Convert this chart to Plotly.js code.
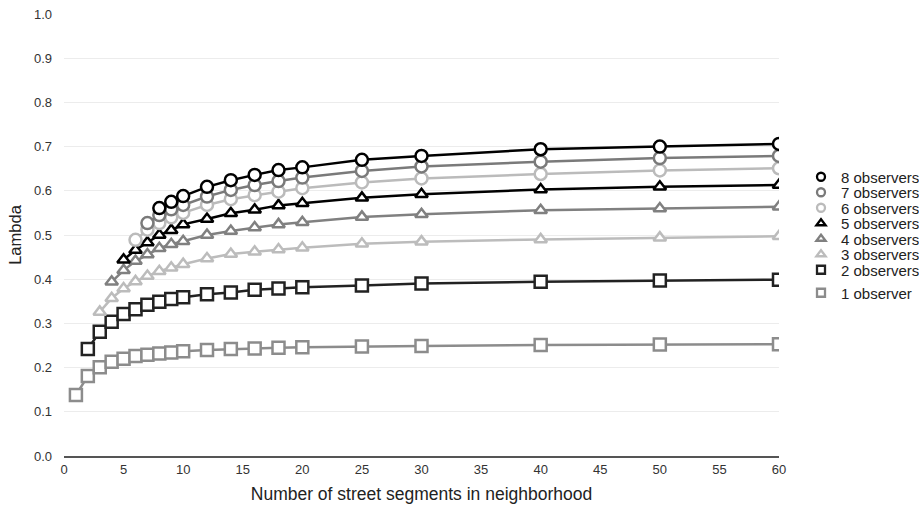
<!DOCTYPE html>
<html>
<head>
<meta charset="utf-8">
<script src="https://cdn.plot.ly/plotly-3.0.1.min.js"></script>
<style>html,body{margin:0;padding:0;background:#fff;}#chart{width:919px;height:508px;}</style>
</head>
<body>
<div id="chart"></div>
<script>
// Number of street segments in neighborhood
const segments = [1,2,3,4,5,6,7,8,9,10,12,14,16,18,20,25,30,40,50,60];

// Lambda by number of observers (null = not shown for that segment count)
const obs1 = [0.138,0.181,0.201,0.213,0.220,0.226,0.229,0.232,0.234,0.237,0.240,0.242,0.243,0.245,0.246,0.248,0.249,0.251,0.252,0.253];
const obs2 = [null,0.242,0.281,0.304,0.321,0.332,0.342,0.349,0.355,0.359,0.366,0.370,0.376,0.379,0.382,0.386,0.390,0.394,0.397,0.399];
const obs3 = [null,null,0.326,0.357,0.379,0.395,0.407,0.418,0.426,0.434,0.447,0.457,0.462,0.467,0.471,0.480,0.485,0.490,0.494,0.497];
const obs4 = [null,null,null,0.394,0.420,0.441,0.456,0.470,0.479,0.486,0.500,0.509,0.517,0.524,0.529,0.541,0.547,0.556,0.560,0.564];
const obs5 = [null,null,null,null,0.444,0.466,0.483,0.500,0.511,0.524,0.536,0.549,0.557,0.567,0.572,0.584,0.592,0.603,0.609,0.613];
const obs6 = [null,null,null,null,null,0.489,0.512,0.527,0.540,0.550,0.568,0.581,0.590,0.598,0.606,0.619,0.628,0.638,0.646,0.651];
const obs7 = [null,null,null,null,null,null,0.527,0.545,0.558,0.568,0.587,0.602,0.613,0.622,0.630,0.645,0.655,0.666,0.674,0.679];
const obs8 = [null,null,null,null,null,null,null,0.561,0.575,0.588,0.609,0.624,0.636,0.647,0.653,0.670,0.679,0.694,0.700,0.706];

const seriesNames = ["1 observer","2 observers","3 observers","4 observers","5 observers","6 observers","7 observers","8 observers"];
const seriesValues = [obs1,obs2,obs3,obs4,obs5,obs6,obs7,obs8];
const seriesColors = ["#8c8c8c","#222222","#bcbcbc","#808080","#000000","#bbbbbb","#7a7a7a","#000000"];
const seriesSymbols = ["square","square","triangle-up","triangle-up","triangle-up","circle","circle","circle"];

const xTicks = [0,5,10,15,20,25,30,35,40,45,50,55,60];
const yTicks = [0,0.1,0.2,0.3,0.4,0.5,0.6,0.7,0.8,0.9,1.0];

// legend row centres (pixels from top), one small legend per series
const legendRowPx = [293, 270, 254.5, 239, 223.5, 208, 192.5, 177];
const W = 919, H = 508;
const plotTop = 14, plotBottom = 456, plotLeft = 64, plotRight = 779;

const traces = [];
seriesValues.forEach((vals, i) => {
  const sym = seriesSymbols[i];
  const size = sym === "square" ? 12 : (sym === "triangle-up" ? 11 : 12);
  traces.push({
    type: "scatter", mode: "lines+markers",
    x: segments, y: vals, name: seriesNames[i],
    showlegend: false, connectgaps: false,
    line: {color: seriesColors[i], width: 2.5},
    marker: {symbol: sym, size: size, color: "#ffffff",
             line: {color: seriesColors[i], width: 2.5}},
    hoverinfo: "x+y+name"
  });
});
const legendKey = i => (i === 0 ? "legend" : "legend" + (i + 1));
seriesValues.forEach((vals, i) => {
  traces.push({
    type: "scatter", mode: "markers",
    x: [null], y: [null], name: seriesNames[i],
    showlegend: true, legend: legendKey(i),
    marker: {symbol: seriesSymbols[i], size: 8, color: "#ffffff",
             line: {color: seriesColors[i], width: 2.3}}
  });
});

const layout = {
  width: W, height: H,
  margin: {l: plotLeft, r: W - plotRight, t: plotTop, b: H - plotBottom, autoexpand: false},
  paper_bgcolor: "#ffffff", plot_bgcolor: "#ffffff",
  font: {family: "Liberation Sans, Arial, Helvetica, sans-serif", color: "#333333", size: 13},
  xaxis: {
    range: [0, 60], tickvals: xTicks, ticktext: xTicks.map(String),
    showgrid: false, zeroline: false,
    showline: true, linecolor: "#555555", linewidth: 2,
    ticks: "", tickfont: {size: 13, color: "#333333"},
    title: {text: "Number of street segments in neighborhood", font: {size: 17.5, color: "#222222"}, standoff: 12}
  },
  yaxis: {
    range: [0, 1.0], tickvals: yTicks, ticktext: yTicks.map(v => v.toFixed(1)),
    showgrid: true, gridcolor: "#ececec", gridwidth: 1,
    zeroline: false, showline: false, ticks: "",
    ticklabelstandoff: 11,
    tickfont: {size: 13, color: "#333333"},
    title: {text: "Lambda", font: {size: 16.5, color: "#222222"}, standoff: 8}
  },
  showlegend: true
};
seriesValues.forEach((vals, i) => {
  layout[legendKey(i)] = {
    xref: "container", yref: "container",
    x: 801 / W, xanchor: "left",
    y: 1 - legendRowPx[i] / H, yanchor: "middle",
    font: {size: 15, color: "#222222"},
    itemwidth: 30, bgcolor: "rgba(0,0,0,0)", borderwidth: 0
  };
});

Plotly.newPlot("chart", traces, layout, {displayModeBar: false, staticPlot: true});
</script>
</body>
</html>
